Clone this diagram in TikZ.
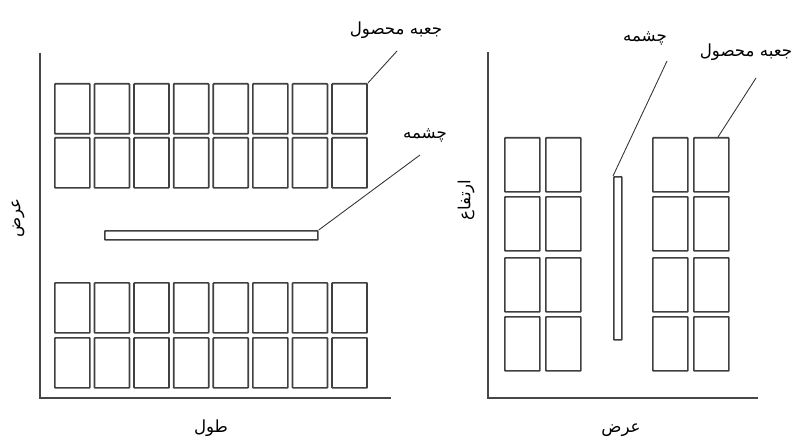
\documentclass[tikz,border=0pt]{standalone}
\usepackage{fontspec}
\newfontfamily\arabicfont[Script=Arabic]{DejaVu Sans}
\TeXXeTstate=1
\begin{document}
\begin{tikzpicture}[x=0.75pt,y=-0.75pt,
  box/.style={draw=black!75, line width=1.3pt, rounded corners=0.5pt, minimum width=26.25pt, inner sep=0pt, anchor=north west},
  lbox/.style={box, minimum height=37.5pt},
  rbox/.style={box, minimum height=40.5pt},
  axis/.style={draw=black!72, line width=1.4pt},
  leader/.style={draw=black!80, line width=0.65pt},
  lbl/.style={font=\arabicfont\fontsize{12.5}{14}\selectfont, inner sep=0pt, text=black},
]
\fill[white] (0,0) rectangle (798,442);
\useasboundingbox (0,0) rectangle (798,442);
% left panel axes
\coordinate (LT) at (40,53);
\coordinate (LO) at (40,398);
\coordinate (LR) at (391,398);
\draw[axis] (LT) -- (LO) -- (LR);
% right panel axes
\coordinate (RT) at (488,52);
\coordinate (RO) at (488,398);
\coordinate (RR) at (758,398);
\draw[axis] (RT) -- (RO) -- (RR);
% left boxes
\foreach \r/\y in {1/83,2/137,3/282,4/337}
  \foreach \c in {1,...,8}
    \node[lbox] (L\r-\c) at ({54+39.6*(\c-1)},\y) {};
% right boxes
\foreach \r/\y in {1/137,2/196,3/257,4/316}
  \foreach \c/\x in {1/504,2/545,3/652,4/693}
    \node[rbox] (R\r-\c) at (\x,\y) {};
% bars
\node[box, minimum width=159.75pt, minimum height=6.75pt] (LB) at (104,230) {};
\node[box, minimum width=6pt, minimum height=122.25pt] (RB) at (613,176) {};
% labels
\node[lbl] (Lbox) at (396,30) {\beginR جعبه محصول\endR};
\node[lbl] (Lch) at (425,135) {\beginR چشمه\endR};
\node[lbl] (Rch) at (645,38) {\beginR چشمه\endR};
\node[lbl] (Rbox) at (746,52) {\beginR جعبه محصول\endR};
\node[lbl, rotate=90] (Ly) at (18,218) {\beginR عرض\endR};
\node[lbl] (Lx) at (211,428) {\beginR طول\endR};
\node[lbl, rotate=90] (Ry) at (466,200) {\beginR ارتفاع\endR};
\node[lbl] (Rx) at (621,430) {\beginR عرض\endR};
% leaders
\coordinate (Lbe) at (397,51);
\coordinate (Lce) at (420,155);
\coordinate (Rce) at (667,61);
\coordinate (Rbe) at (756,78);
\draw[leader] (L1-8.north east) -- (Lbe);
\draw[leader] (LB.north east) -- (Lce);
\draw[leader] (RB.north west) -- (Rce);
\draw[leader] ([xshift=5pt]R1-4.north) -- (Rbe);
\end{tikzpicture}
\end{document}
